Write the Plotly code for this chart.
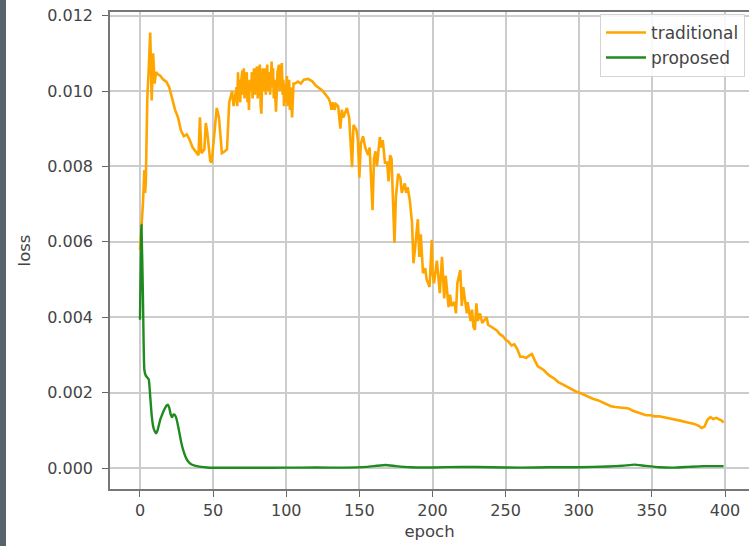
import plotly.graph_objects as go

# ---- data ----
trad_epoch = [0, 1, 2, 3, 3.5, 4, 5, 6, 7, 8, 9, 10, 11, 12, 14, 16, 18, 20, 22, 24, 26, 28, 30, 32, 34,
              36, 38, 40, 41, 42, 44, 45, 46, 48, 49, 51, 52.5, 54, 55, 56, 58, 59.5, 61, 63, 64, 65,
              66, 66.5, 67, 67.5, 68, 68.5, 69, 70, 70.5, 71, 71.5, 72, 73, 73.5, 74, 74.5, 75, 76, 76.5,
              77, 78, 78.5, 79, 80, 80.5, 81, 82, 82.5, 83, 83.5, 84, 85, 85.5, 86, 87, 87.5, 88, 89, 90,
              90.5, 91, 91.5, 92, 93, 93.5, 94, 95, 95.5, 96, 97, 97.5, 98, 98.5, 99, 100, 100.5, 101,
              102, 102.5, 103, 104, 104.5, 105, 106, 108, 110, 112,
              115, 118, 120, 123, 125, 127, 129, 130, 131, 132, 133, 134, 135.5, 137, 138, 139, 141.5,
              143, 145, 146, 148, 149, 150, 151, 152.5, 154, 156, 157, 159, 160, 161, 162, 164, 165, 166,
              167.5, 169, 170, 171, 172, 174, 175, 176.5, 178, 179, 181, 182, 183, 184.5, 186, 187, 188,
              190, 191, 192, 193.5, 195, 196, 198, 199.5, 200, 201, 203, 205, 206.5, 208, 209, 211, 212,
              213, 215, 216, 217, 219, 220, 221, 223.5, 224, 226, 227, 228, 229, 230, 231, 232.5, 234,
              235, 237, 238, 240, 242, 244, 246, 248, 250, 252, 254, 256, 258, 260, 262, 264, 266, 268,
              270, 272, 274, 276, 278, 280, 283, 286, 289, 292, 295, 298, 301, 304, 307, 310, 313, 316,
              319, 322, 325, 328, 331, 334, 337, 340, 343, 346, 349, 352, 355, 358, 361, 364, 367, 370,
              373, 376, 379, 382, 384, 386, 388, 390, 392, 394, 396, 398, 399]
trad_loss = [0.00578, 0.0063, 0.0070, 0.0079, 0.0073, 0.0076, 0.0098, 0.0106, 0.01155, 0.00975, 0.0110,
             0.0102, 0.0105, 0.01045, 0.0104, 0.0103, 0.01025, 0.0101, 0.0098, 0.0095, 0.0093, 0.00895,
             0.0088, 0.00885, 0.0087, 0.0085, 0.0084, 0.0083, 0.0093, 0.00835, 0.00845, 0.00915, 0.0089,
             0.00815, 0.0081, 0.0089, 0.00955, 0.0093, 0.0088, 0.00835, 0.0084, 0.00845, 0.0097, 0.0100,
             0.0096, 0.00985,
             0.0101, 0.0096, 0.0105, 0.0098, 0.0103, 0.0097, 0.0102, 0.01055, 0.0099, 0.0106, 0.0098,
             0.0103, 0.0105, 0.0097, 0.0101, 0.0095, 0.0103, 0.0100, 0.0105, 0.0098, 0.0106, 0.0099,
             0.0104, 0.01065, 0.0098, 0.0105, 0.0107, 0.0096, 0.0094, 0.0102, 0.0106, 0.0100, 0.0106,
             0.0099, 0.0107, 0.0100, 0.0105, 0.0099, 0.01078, 0.0101, 0.0106, 0.0098, 0.0103, 0.00945,
             0.0102, 0.0105, 0.0107, 0.0100, 0.0104, 0.01074, 0.0099, 0.0103, 0.0096, 0.0102, 0.0097,
             0.0104, 0.0096, 0.0103, 0.0095, 0.0101, 0.0093, 0.0100, 0.0102, 0.0102, 0.01025, 0.0102,
             0.0103, 0.01032, 0.01025, 0.01015, 0.01005, 0.0100, 0.0099, 0.0098, 0.0097, 0.0095, 0.0097,
             0.0095, 0.00965, 0.0096, 0.0090, 0.0095, 0.0093, 0.00955, 0.0093, 0.00798, 0.0091, 0.00897,
             0.0087, 0.0077, 0.0086, 0.0088, 0.0085, 0.0083, 0.0085, 0.00684, 0.0082, 0.0084, 0.0080,
             0.00878, 0.0085, 0.0087, 0.0081, 0.0081, 0.0076, 0.0083, 0.0082, 0.00597, 0.0072, 0.0078,
             0.0077, 0.0073, 0.00755, 0.0073, 0.00745, 0.0071, 0.0065, 0.00543, 0.0058, 0.0066, 0.0056,
             0.0062, 0.00517, 0.0053, 0.0050, 0.0048, 0.00605, 0.0052, 0.0049, 0.0055, 0.00464, 0.0056,
             0.0045, 0.0051, 0.00427, 0.0046, 0.0043, 0.0044, 0.0041, 0.0049, 0.00525, 0.0043, 0.0048,
             0.0041, 0.0044, 0.0039, 0.0042, 0.00374, 0.00366, 0.00437, 0.0039, 0.0041, 0.00385, 0.0039,
             0.0040, 0.0038, 0.00375, 0.0037, 0.00365, 0.00355, 0.0035, 0.0034, 0.00335, 0.00325,
             0.00328, 0.00315, 0.00295, 0.00295, 0.00292, 0.00298, 0.00302, 0.00285, 0.0027, 0.00265,
             0.0026, 0.00252, 0.00245, 0.00238, 0.00228, 0.00222, 0.00215, 0.0021, 0.00203, 0.00199,
             0.00193, 0.00188, 0.00183, 0.0018, 0.00174, 0.0017, 0.00164, 0.00162, 0.0016, 0.0016,
             0.00158, 0.00152, 0.00148, 0.00145, 0.0014, 0.0014, 0.00137, 0.00137, 0.00135, 0.00132,
             0.0013, 0.00128, 0.00125, 0.00122, 0.0012, 0.00117, 0.00112, 0.00106, 0.0011, 0.00128,
             0.00135, 0.0013, 0.00133, 0.00128, 0.00125, 0.0012]

prop_epoch = [0, 1, 2, 3, 4, 5, 6, 7, 8, 9, 10, 11, 12, 13, 14, 15, 16, 17, 18, 19, 20, 21, 22, 23, 24,
              25, 26, 27, 28, 29, 30, 31, 32, 33, 34, 35, 37, 39, 42, 46, 50, 60, 80, 100, 120, 140, 155,
              162, 168, 175, 185, 200, 220, 240, 260, 280, 300, 320, 330, 338, 345, 355, 365, 375, 385, 399]
prop_loss = [0.00393, 0.00645, 0.0046, 0.0026, 0.00245, 0.0024, 0.00235, 0.0019, 0.0014, 0.0011, 0.00098,
             0.00092, 0.0010, 0.00115, 0.0013, 0.0014, 0.0015, 0.00158, 0.00165, 0.00168, 0.0016, 0.00142,
             0.00135, 0.00142, 0.0014, 0.0013, 0.00112, 0.00092, 0.00072, 0.00055, 0.00042, 0.00031,
             0.00023, 0.00017, 0.00013, 0.0001, 0.00007, 0.00005, 0.00003, 0.000015, 0.000008, 0.000005,
             0.000006, 0.00001, 0.000012, 0.00001, 0.00003, 0.00006, 0.00008, 0.00005, 0.00002, 0.000015,
             0.00003, 0.00002, 0.00001, 0.00002, 0.00002, 0.00004, 0.00006, 0.00009, 0.00006, 0.00002,
             0.00001, 0.00003, 0.00005, 0.00005]

x_ticks = [0, 50, 100, 150, 200, 250, 300, 350, 400]
y_ticks = [0.000, 0.002, 0.004, 0.006, 0.008, 0.010, 0.012]
y_tick_labels = ["0.000", "0.002", "0.004", "0.006", "0.008", "0.010", "0.012"]

fig = go.Figure()
fig.add_trace(go.Scatter(x=trad_epoch, y=trad_loss, mode="lines", name="traditional",
                         line=dict(color="#FFA500", width=2.6)))
fig.add_trace(go.Scatter(x=prop_epoch, y=prop_loss, mode="lines", name="proposed",
                         line=dict(color="#1f8a1f", width=2.4, shape="spline", smoothing=0.4)))

font = dict(family="DejaVu Sans", size=16, color="#444444")
title_font = dict(family="DejaVu Sans", size=16.5, color="#444444")

fig.update_layout(
    width=749, height=546,
    margin=dict(l=110, r=0, t=12, b=57),
    paper_bgcolor="white", plot_bgcolor="white",
    font=font,
    showlegend=True,
    legend=dict(x=0.9937, y=0.996, xanchor="right", yanchor="top",
                bgcolor="rgba(255,255,255,0.85)", bordercolor="#d4d4d4", borderwidth=1,
                font=dict(family="DejaVu Sans", size=17, color="#444444"),
                itemwidth=40),
    xaxis=dict(range=[-20.5, 416.4], tickvals=x_ticks, showgrid=True, gridcolor="#cccccc",
               gridwidth=1.6, zeroline=False, showline=True, linecolor="#777777", linewidth=1.6,
               mirror=True, ticks="outside", ticklen=6, tickwidth=1.4, tickcolor="#666666",
               title=dict(text="epoch", standoff=6, font=title_font)),
    yaxis=dict(range=[-0.000557, 0.012096], tickvals=y_ticks, ticktext=y_tick_labels,
               showgrid=True, gridcolor="#cccccc", gridwidth=1.6, zeroline=False, showline=True,
               linecolor="#777777", linewidth=1.6, ticks="outside", ticklen=6, tickwidth=1.4,
               tickcolor="#666666", ticklabelstandoff=6,
               title=dict(text="loss", standoff=12, font=title_font)),
    shapes=[dict(type="rect", xref="paper", yref="paper",
                 x0=-110 / 639, x1=-104 / 639, y0=-0.2, y1=1.1,
                 fillcolor="#56646e", line=dict(width=0), layer="above")],
)

fig.write_html("out.html")
